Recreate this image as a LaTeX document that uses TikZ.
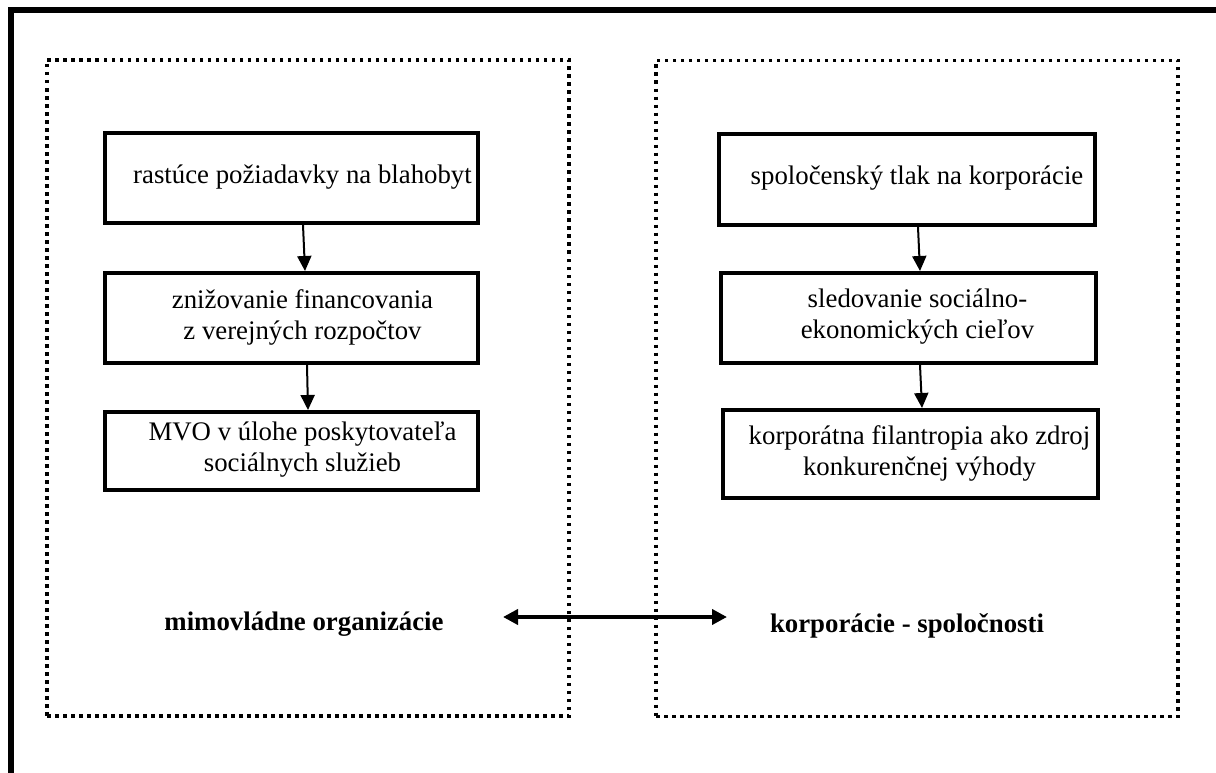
\documentclass[tikz,border=0pt]{standalone}
\usepackage{fontspec}
\setmainfont{Liberation Serif}
\usetikzlibrary{arrows.meta}

\begin{document}
\begin{tikzpicture}[x=1pt,y=-1pt,
  frame/.style={line width=6pt},
  dotbox/.style={draw,line width=3.5pt,dash pattern=on 3.5pt off 4.5pt,minimum width=522pt,minimum height=656pt,inner sep=0pt},
  stepbox/.style={draw,line width=4pt,inner sep=0pt,minimum width=373pt},
  txt/.style={align=center,font=\fontsize{26.8}{31}\selectfont,inner sep=0pt},
  lbl/.style={font=\fontsize{26.8}{31}\selectfont\bfseries,inner sep=0pt},
  flow/.style={line width=2pt,-{Triangle[length=15pt,width=14pt]}},
  link/.style={line width=4pt,{Triangle[length=15pt,width=15pt]}-{Triangle[length=15pt,width=15pt]}}]
\useasboundingbox (0,0) rectangle (1216,773);

% outer frame (top and left edges)
\draw[frame] (11,773) -- (11,10.5) -- (1216,10.5);

% the two dotted groups
\node[dotbox] (ngo) at (308,388) {};
\node[dotbox] (corp) at (917,388.5) {};

% left chain
\node[stepbox,minimum height=90pt] (l1) at (291.5,178) {};
\node[stepbox,minimum height=90pt] (l2) at (291.5,318) {};
\node[stepbox,minimum height=78pt] (l3) at (291.5,451) {};
\node[txt] (l1t) at ([xshift=11pt,yshift=1pt]l1.center) {rastúce požiadavky na blahobyt};
\node[txt] (l2t) at ([xshift=11pt,yshift=1pt]l2.center) {znižovanie financovania\\z verejných rozpočtov};
\node[txt] (l3t) at ([xshift=11pt,yshift=1pt]l3.center) {MVO v úlohe poskytovateľa\\sociálnych služieb};

% right chain
\node[stepbox,minimum width=376pt,minimum height=91pt] (r1) at (907,179.5) {};
\node[stepbox,minimum width=375pt,minimum height=90pt] (r2) at (908.5,318) {};
\node[stepbox,minimum width=375pt,minimum height=88pt] (r3) at (910.5,454) {};
\node[txt] (r1t) at ([xshift=10pt,yshift=1pt]r1.center) {spoločenský tlak na korporácie};
\node[txt] (r2t) at ([xshift=9pt,yshift=1pt]r2.center) {sledovanie sociálno-\\ekonomických cieľov};
\node[txt] (r3t) at ([xshift=9pt,yshift=1pt]r3.center) {korporátna filantropia ako zdroj\\konkurenčnej výhody};

% arrows inside each chain
\draw[flow] ([xshift=11.5pt]l1.south) -- ([xshift=13.5pt]l2.north);
\draw[flow] ([xshift=15.5pt]l2.south) -- ([xshift=16.5pt]l3.north);
\draw[flow] ([xshift=11pt]r1.south) -- ([xshift=11.5pt]r2.north);
\draw[flow] ([xshift=11.5pt]r2.south) -- ([xshift=11.5pt]r3.north);

% group labels and the link between them
\node[lbl] (ngol) at (304,624) {mimovládne organizácie};
\node[lbl] (corpl) at (907,626) {korporácie - spoločnosti};
\coordinate (la) at (503,617);
\coordinate (ra) at (727,617);
\draw[link] (la) -- (ra);
\end{tikzpicture}
\end{document}
